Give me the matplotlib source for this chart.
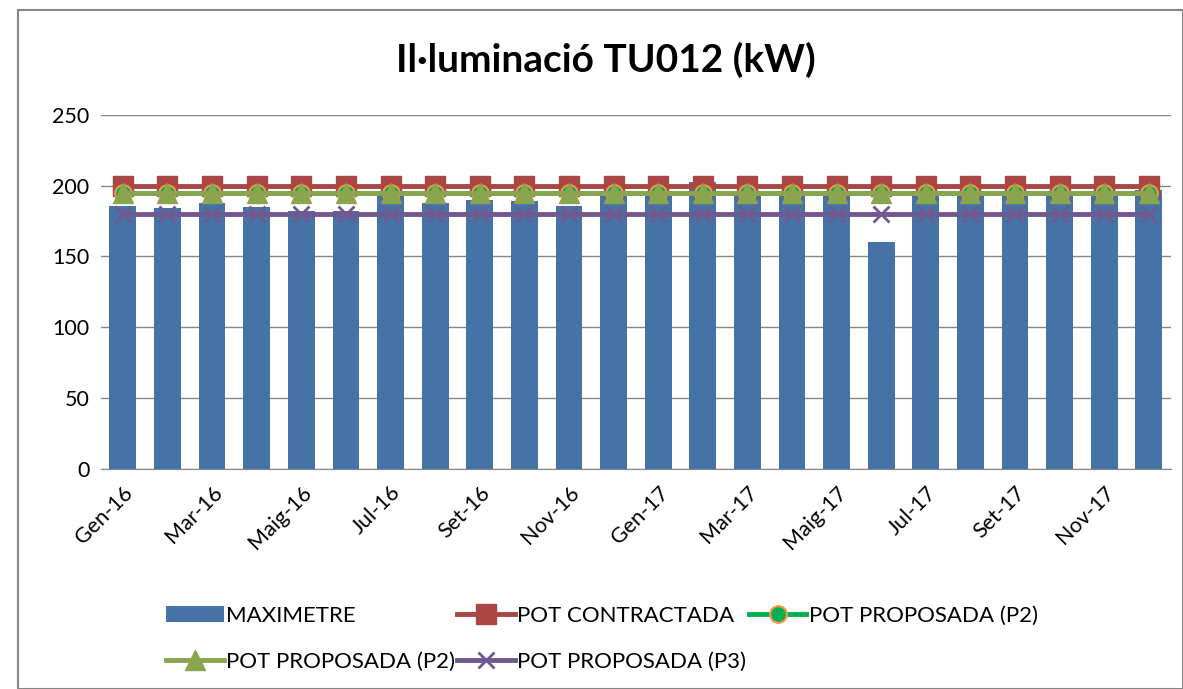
import matplotlib
matplotlib.use("Agg")
from matplotlib import pyplot as plt
import numpy as np

plt.rcParams['font.family'] = ['Lato', 'DejaVu Sans']

# dades
mesos = ['Gen-16', 'Feb-16', 'Mar-16', 'Abr-16', 'Maig-16', 'Jun-16', 'Jul-16', 'Ago-16',
         'Set-16', 'Oct-16', 'Nov-16', 'Des-16', 'Gen-17', 'Feb-17', 'Mar-17', 'Abr-17',
         'Maig-17', 'Jun-17', 'Jul-17', 'Ago-17', 'Set-17', 'Oct-17', 'Nov-17', 'Des-17']
maximetre = [186, 184, 188, 185, 182, 182, 193, 188, 190, 189, 186, 193,
             195, 203, 195, 195, 195, 160, 193, 195, 195, 195, 195, 197]
pot_contractada = [200] * 24
pot_p2_a = [195] * 24
pot_p2_b = [195] * 24
pot_p3 = [180] * 24

fig = plt.figure(figsize=(11.83, 6.89), dpi=100)
ax = fig.add_axes([0.085, 0.32, 0.905, 0.513])

x = np.arange(len(mesos))
b = ax.bar(x, maximetre, width=0.6, color='#4572A7', zorder=2, label='MAXIMETRE')
l1, = ax.plot(x, pot_contractada, color='#AA4643', lw=3.5, marker='s', ms=14,
              zorder=3, label='POT CONTRACTADA')
l2, = ax.plot(x, pot_p2_a, color='#00B050', lw=3.5, marker='o', ms=12,
              mfc='#00B050', mec='#F79646', mew=1.5, zorder=4, label='POT PROPOSADA (P2)')
l3, = ax.plot(x, pot_p2_b, color='#89A54E', lw=3.5, marker='^', ms=15,
              zorder=5, label='POT PROPOSADA (P2)')
l4, = ax.plot(x, pot_p3, color='#71588F', lw=3.5, marker='x', ms=12, mew=2,
              zorder=6, label='POT PROPOSADA (P3)')

ax.set_xlim(-0.5, len(mesos) - 0.5)
ax.set_ylim(0, 250)
ax.set_yticks([0, 50, 100, 150, 200, 250])
ax.set_xticks(x[::2])
ax.set_xticklabels(mesos[::2], rotation=45, ha='right', rotation_mode='anchor')
ax.tick_params(labelsize=15.5, length=0, pad=8)
ax.tick_params(axis='x', pad=10)
ax.yaxis.grid(True, color='#868686', lw=1, zorder=0)
for s in ['top', 'right', 'left']:
    ax.spines[s].set_visible(False)
ax.spines['bottom'].set_color('#868686')

fig.text(0.512, 0.913, 'Il·luminació TU012 (kW)', ha='center', va='center',
         fontsize=28, fontweight='bold')

fig.legend([b, l3, l1, l4, l2],
           ['MAXIMETRE', 'POT PROPOSADA (P2)', 'POT CONTRACTADA',
            'POT PROPOSADA (P3)', 'POT PROPOSADA (P2)'],
           ncol=3, loc='upper left', bbox_to_anchor=(0.133, 0.134),
           frameon=False, fontsize=16, handlelength=2.6, handletextpad=0.1,
           columnspacing=0.1, labelspacing=1.2, borderaxespad=0)

# marc exterior
fig.patches.append(plt.Rectangle((0.015, 0.0), 0.985, 0.985, transform=fig.transFigure,
                                 fill=False, ec='#868686', lw=1.5))

plt.savefig('out.png', dpi=100)
